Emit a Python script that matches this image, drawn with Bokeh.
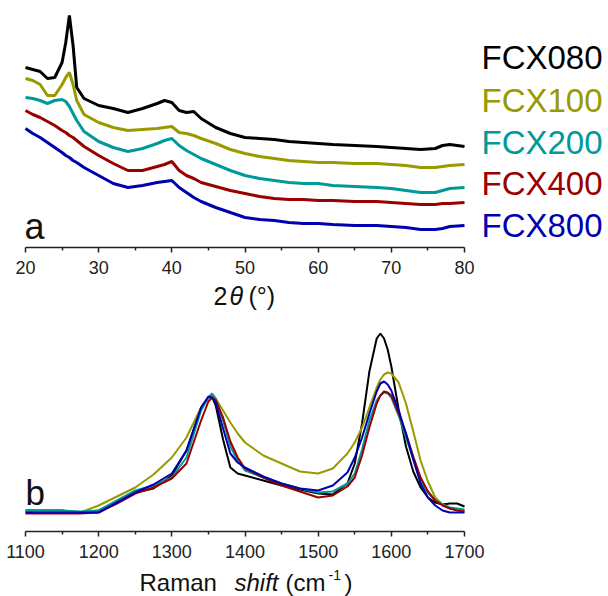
from bokeh.plotting import figure
from bokeh.models import Range1d, Label, FixedTicker
from bokeh.layouts import column
from bokeh.embed import file_html
from bokeh.resources import INLINE

# ---------------- XRD data (panel a) ----------------
theta = [20, 21, 22, 23, 24, 25, 25.5, 26, 26.5, 27, 28, 30, 32, 34, 36, 38, 39, 40, 41, 42,
         43, 44, 46, 48, 50, 52, 54, 56, 58, 60, 62, 65, 68, 70, 72, 74, 76, 77, 78, 80]
xrd_fcx080 = [183, 181, 179, 172, 173, 188, 208, 235, 205, 163, 152, 145, 142, 138, 142, 147, 150, 148, 140, 138,
              139, 132, 123, 117, 113, 112, 111, 109, 108, 107, 106, 105, 104, 103, 102, 101, 102, 105, 106, 104]
xrd_fcx100 = [172, 170, 166, 155, 155, 166, 173, 178, 166, 150, 136, 128, 123, 120, 121, 122, 123, 124, 118, 117,
              115, 112, 107, 101, 97, 94, 92, 90, 89, 88, 88, 87, 87, 86, 85, 83, 83, 84, 85, 86]
xrd_fcx200 = [153, 152, 150, 147, 150, 151, 149, 144, 137, 130, 119, 109, 103, 99, 102, 107, 110, 112, 105, 100,
              96, 92, 86, 80, 75, 72, 70, 68, 67, 67, 65, 64, 63, 62, 60, 58, 58, 60, 62, 63]
xrd_fcx400 = [140, 136, 133, 129, 125, 120, 118, 115, 113, 110, 104, 95, 87, 80, 80, 84, 86, 89, 80, 75,
              72, 68, 64, 60, 57, 54, 52, 51, 51, 50, 50, 49, 49, 48, 47, 46, 46, 47, 47, 48]
xrd_fcx800 = [122, 117, 113, 108, 103, 98, 95, 93, 90, 88, 83, 75, 67, 63, 65, 68, 69, 70, 63, 58,
              53, 49, 43, 38, 33, 31, 30, 28, 27, 27, 26, 25, 25, 24, 23, 21, 21, 22, 24, 25]

# ---------------- Raman data (panel b) ----------------
shift = [1100, 1150, 1175, 1200, 1225, 1250, 1275, 1300, 1320, 1340, 1350, 1355, 1360, 1370, 1380, 1390,
         1400, 1425, 1450, 1475, 1500, 1520, 1540, 1550, 1560, 1570, 1580, 1585, 1590, 1595, 1600, 1610,
         1620, 1630, 1640, 1650, 1660, 1670, 1680, 1690, 1700]
ram_fcx080 = [21, 21, 19, 21, 30, 39, 43, 56, 81, 124, 134, 135, 126, 92, 64, 58,
              56, 51, 46, 42, 38, 37, 48, 68, 108, 160, 193, 198, 193, 182, 165, 122,
              85, 60, 44, 34, 29, 27, 28, 28, 25]
ram_fcx100 = [19, 19, 19, 26, 35, 44, 57, 74, 94, 124, 134, 136, 133, 121, 109, 98,
              89, 76, 68, 60, 58, 63, 78, 89, 104, 124, 144, 152, 157, 159, 158, 149,
              128, 100, 71, 50, 34, 27, 23, 22, 21]
ram_fcx200 = [21, 21, 20, 21, 31, 41, 46, 54, 74, 121, 134, 138, 133, 111, 85, 71,
              61, 54, 48, 43, 39, 40, 48, 58, 82, 111, 131, 136, 139, 138, 134, 116,
              94, 72, 51, 39, 31, 27, 24, 23, 22]
ram_fcx400 = [18, 18, 18, 19, 28, 38, 44, 53, 68, 111, 130, 134, 131, 114, 90, 74,
              63, 54, 46, 40, 34, 36, 45, 54, 76, 104, 128, 136, 140, 139, 136, 118,
              98, 75, 54, 40, 31, 26, 23, 21, 20]
ram_fcx800 = [19, 19, 19, 19, 29, 39, 47, 58, 81, 124, 135, 134, 129, 103, 78, 69,
              64, 55, 48, 43, 41, 46, 59, 74, 94, 118, 140, 148, 150, 147, 141, 121,
              98, 72, 48, 34, 26, 21, 19, 19, 19]

names = ["FCX080", "FCX100", "FCX200", "FCX400", "FCX800"]
colors = ["#000000", "#999900", "#009999", "#990000", "#0000b0"]
xrd = [xrd_fcx080, xrd_fcx100, xrd_fcx200, xrd_fcx400, xrd_fcx800]
ram = [ram_fcx080, ram_fcx100, ram_fcx200, ram_fcx400, ram_fcx800]

FONT = "Liberation Sans"
W = 608
AX_LEFT, AX_RIGHT = 25, 464  # page x of the axis ends


def padded_range(lo, hi):
    k = (AX_RIGHT - AX_LEFT) / (hi - lo)
    return Range1d(lo - AX_LEFT / k, hi + (W - AX_RIGHT) / k)


def style_axis(p, ticks, minor):
    ax = p.xaxis[0]
    ax.ticker = FixedTicker(ticks=ticks, minor_ticks=minor)
    ax.bounds = (ticks[0], ticks[-1])
    ax.axis_line_color = "#222222"
    ax.axis_line_width = 1.5
    ax.major_tick_line_color = "#222222"
    ax.major_tick_line_width = 1.5
    ax.minor_tick_line_color = "#222222"
    ax.minor_tick_line_width = 1.5
    ax.major_tick_out = 5
    ax.major_tick_in = 0
    ax.minor_tick_out = 3
    ax.minor_tick_in = 0
    ax.major_label_standoff = 8
    ax.major_label_text_font = FONT
    ax.major_label_text_font_size = "18px"
    ax.major_label_text_color = "#222222"
    p.outline_line_color = None
    p.grid.visible = False


def add_text(p, frame_bottom, px, py, txt, color="#111111", size=25, style="normal"):
    # screen units: relative to the frame's bottom-left corner (frame starts at page x = 0);
    # py is the wanted page baseline; correct for the renderer's baseline offset
    p.add_layout(Label(x=px, y=frame_bottom - py + 0.3 * size, x_units="screen", y_units="screen",
                       text=txt, text_color=color, text_font=FONT, text_font_size=f"{size}px",
                       text_font_style=style, text_baseline="alphabetic", text_align="left"))


def text_strip(height):
    t = figure(width=W, height=height, output_backend="svg", toolbar_location=None,
               x_range=Range1d(0, 1), y_range=Range1d(0, 1),
               x_axis_location=None, y_axis_location=None,
               min_border_left=0, min_border_right=0, min_border_top=0, min_border_bottom=0)
    t.outline_line_color = None
    t.grid.visible = False
    return t


# ---------------- top panel ----------------
p1 = figure(width=W, height=280, output_backend="svg", toolbar_location=None,
            x_range=padded_range(20, 80), y_range=Range1d(3, 240),
            min_border_left=0, min_border_right=0, min_border_top=10, min_border_bottom=33,
            y_axis_location=None)
style_axis(p1, [20, 30, 40, 50, 60, 70, 80], [25, 35, 45, 55, 65, 75])
for ys, c in zip(xrd, colors):
    p1.line(theta, ys, line_color=c, line_width=3)

FB1 = 247
leg_base = [67, 110, 152, 193, 235]
for n, c, b in zip(names, colors, leg_base):
    add_text(p1, FB1, 481, b, n, color=c, size=33)
add_text(p1, FB1, 24, 237, "a", size=36)

t1 = text_strip(32)  # page y 280..312
add_text(t1, 312, 213, 303, "2", size=25)
add_text(t1, 312, 229, 303, "θ", size=25, style="italic")
add_text(t1, 312, 248, 303, "(°)", size=25)

# ---------------- bottom panel ----------------
p2 = figure(width=W, height=252, output_backend="svg", toolbar_location=None,
            x_range=padded_range(1100, 1700), y_range=Range1d(0, 209),
            min_border_left=0, min_border_right=0, min_border_top=10, min_border_bottom=33,
            y_axis_location=None)
style_axis(p2, [1100, 1200, 1300, 1400, 1500, 1600, 1700], [1150, 1250, 1350, 1450, 1550, 1650])
for ys, c in zip(ram, colors):
    p2.line(shift, ys, line_color=c, line_width=2)

FB2 = 531
add_text(p2, FB2, 25, 502, "b", size=35)

t2 = text_strip(32)  # page y 564..596
for txt, x, style in [("Raman", 139, "normal"), ("shift", 234, "italic"), ("(cm", 285, "normal"),
                      (")", 344, "normal")]:
    add_text(t2, 596, x, 589, txt, size=24, style=style)
add_text(t2, 596, 328, 579, "-1", size=14)

layout = column(p1, t1, p2, t2, spacing=0)
open("out.html", "w").write(file_html(layout, INLINE))
